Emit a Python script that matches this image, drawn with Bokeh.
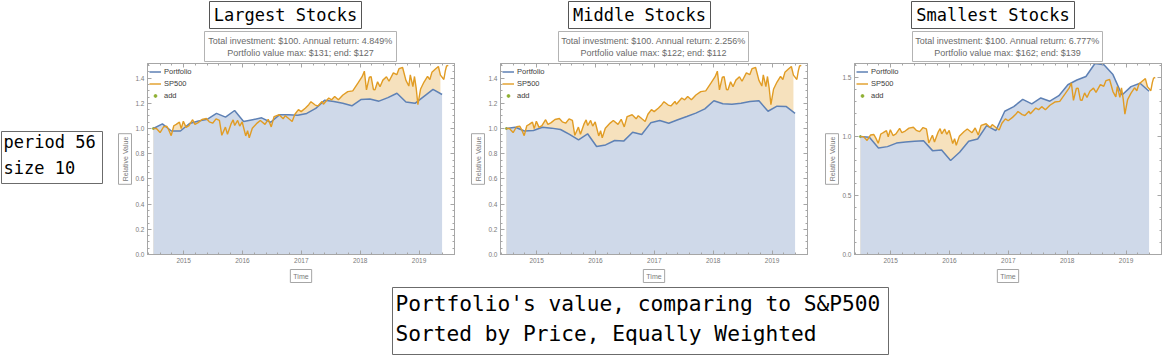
import numpy as np
from bokeh.plotting import figure
from bokeh.layouts import row, column
from bokeh.models import (Range1d, FixedTicker, LinearAxis, Title, Label, Legend,
                          LegendItem, Spacer, PrintfTickFormatter, CustomJSTickFormatter)
from bokeh.embed import file_html
from bokeh.resources import INLINE

# ---------------- data ----------------
sp_times = [2014.486, 2014.537, 2014.581, 2014.600, 2014.660, 2014.715, 2014.751, 2014.789,
            2014.833, 2014.874, 2014.929, 2014.959, 2014.995,
            2015.041, 2015.090, 2015.153, 2015.192, 2015.247, 2015.312, 2015.386, 2015.436,
            2015.493, 2015.551, 2015.608, 2015.649, 2015.710, 2015.745, 2015.808, 2015.841,
            2015.868, 2015.918, 2015.953, 2015.995,
            2016.055, 2016.087, 2016.115, 2016.167, 2016.249, 2016.303, 2016.383, 2016.437,
            2016.489, 2016.538, 2016.623, 2016.691, 2016.727, 2016.784, 2016.844, 2016.891,
            2016.951, 2016.997,
            2017.071, 2017.126, 2017.164, 2017.236, 2017.282, 2017.351, 2017.375, 2017.466,
            2017.515, 2017.567, 2017.630, 2017.707, 2017.789, 2017.874, 2017.964,
            2018.033, 2018.071, 2018.107, 2018.156, 2018.186, 2018.225, 2018.252, 2018.296,
            2018.337, 2018.386, 2018.447, 2018.490, 2018.564, 2018.622, 2018.660, 2018.721,
            2018.778, 2018.827, 2018.852, 2018.896, 2018.923, 2018.953, 2018.981,
            2019.027, 2019.085, 2019.145, 2019.184, 2019.219, 2019.279, 2019.329, 2019.364,
            2019.422, 2019.447, 2019.468, 2019.497]
sp_values = [1.000, 1.000, 0.978, 0.967, 1.014, 1.018, 0.985, 0.943,
             1.022, 1.033, 1.051, 0.999, 1.058,
             1.009, 1.023, 1.070, 1.033, 1.047, 1.072, 1.079, 1.053,
             1.042, 1.077, 1.065, 0.946, 1.011, 0.954, 1.039, 1.068,
             1.024, 1.064, 1.019, 1.052,
             0.941, 0.982, 0.926, 1.002, 1.043, 1.064, 1.033, 1.073,
             1.013, 1.095, 1.109, 1.077, 1.102, 1.079, 1.056, 1.113,
             1.150, 1.134,
             1.163, 1.189, 1.213, 1.186, 1.179, 1.215, 1.193, 1.242,
             1.228, 1.254, 1.228, 1.266, 1.293, 1.299, 1.362,
             1.411, 1.455, 1.307, 1.408, 1.411, 1.310, 1.307, 1.371,
             1.332, 1.384, 1.411, 1.375, 1.441, 1.427, 1.475, 1.484,
             1.382, 1.337, 1.425, 1.333, 1.413, 1.316, 1.190,
             1.314, 1.369, 1.414, 1.389, 1.446, 1.472, 1.492, 1.424,
             1.389, 1.458, 1.496, 1.501]

port_times = [2014.486, 2014.639, 2014.793, 2014.946, 2015.099, 2015.253, 2015.406, 2015.559,
              2015.712, 2015.866, 2016.019, 2016.172, 2016.326, 2016.479, 2016.632, 2016.786,
              2016.939, 2017.092, 2017.245, 2017.399, 2017.552, 2017.705, 2017.859, 2018.012,
              2018.165, 2018.319, 2018.472, 2018.625, 2018.778, 2018.932, 2019.085, 2019.238,
              2019.392]
largest_values = [1.00, 1.037, 0.98, 0.98, 1.04, 1.06, 1.074, 1.12, 1.09, 1.143, 1.055, 1.07,
                  1.085, 1.05, 1.11, 1.11, 1.105, 1.12, 1.16, 1.225, 1.215, 1.20, 1.18, 1.23,
                  1.235, 1.217, 1.245, 1.28, 1.21, 1.20, 1.255, 1.31, 1.27]
middle_values = [1.00, 1.01, 0.98, 0.984, 1.01, 1.003, 0.992, 0.953, 0.91, 0.958, 0.857, 0.87,
                 0.905, 0.90, 0.971, 0.952, 1.045, 1.063, 1.042, 1.069, 1.095, 1.122, 1.156,
                 1.22, 1.196, 1.193, 1.201, 1.214, 1.22, 1.137, 1.177, 1.175, 1.12]
smallest_values = [1.00, 0.995, 0.904, 0.915, 0.945, 0.955, 0.96, 0.965, 0.881, 0.887, 0.797,
                   0.867, 0.96, 0.98, 1.093, 1.05, 1.215, 1.254, 1.316, 1.277, 1.328, 1.30,
                   1.347, 1.44, 1.48, 1.51, 1.62, 1.61, 1.526, 1.353, 1.424, 1.452, 1.385]
# the single $100 investment, made at the start (hidden under the lines)
add_times = [2014.486]
add_values = [1.0]

panel_titles = ["Largest Stocks", "Middle Stocks", "Smallest Stocks"]
panel_subtitles = [
    ["Total investment: $100. Annual return: 4.849%", "Portfolio value max: $131; end: $127"],
    ["Total investment: $100. Annual return: 2.256%", "Portfolio value max: $122; end: $112"],
    ["Total investment: $100. Annual return: 6.777%", "Portfolio value max: $162; end: $139"],
]
series_names = ["Portfolio", "SP500", "add"]
year_ticks = [2015, 2016, 2017, 2018, 2019]
y_ticks_fine = [0.0, 0.2, 0.4, 0.6, 0.8, 1.0, 1.2, 1.4]
y_ticks_coarse = [0.0, 0.5, 1.0, 1.5]
side_lines = ["period 56", "size 10"]
bottom_lines = ["Portfolio's value, comparing to S&P500", "Sorted by Price, Equally Weighted"]

# ---------------- styling ----------------
BLUE, ORANGE, GREEN = "#5e81b5", "#e19c24", "#8fb032"
BLUE_FILL, ORANGE_FILL = "#cfd9e9", "#f6e1bd"
FRAME = "#a6a6a6"
TICK_TXT = "#7a7a7a"
MONO = "DejaVu Sans Mono"
SANS = "Liberation Sans"
X0, X1 = 2014.386, 2019.603
PLOT_H = 224


def style_axis(ax, labels=True):
    ax.axis_line_color = FRAME
    ax.major_tick_line_color = FRAME
    ax.minor_tick_line_color = FRAME
    ax.major_tick_in = 4
    ax.major_tick_out = 0
    ax.minor_tick_in = 2
    ax.minor_tick_out = 0
    ax.major_label_text_font = SANS
    ax.major_label_text_font_size = "6.5px"
    ax.major_label_text_color = TICK_TXT
    ax.major_label_standoff = 3
    if not labels:
        ax.formatter = CustomJSTickFormatter(code="return ''")
        ax.major_label_text_font_size = "0px"
        ax.major_label_standoff = 0


def box_fig(width, height, lines, ys, size, font, color, align, x0, outline, bt=1, bb=1):
    p = figure(width=width, height=height, x_range=Range1d(0, 1), y_range=Range1d(0, 1),
               output_backend="svg", toolbar_location=None, title=None,
               x_axis_type=None, y_axis_type=None, min_border_left=1, min_border_right=1,
               min_border_top=bt, min_border_bottom=bb)
    p.grid.visible = False
    p.outline_line_color = outline
    for txt, y in zip(lines, ys):
        p.add_layout(Label(x=x0, y=y, text=txt, text_font=font, text_font_size=size,
                           text_baseline="middle", text_align=align, text_color=color))
    return p


def plot_fig(vals, ymax, yticks, ystep, width, left, right):
    p = figure(width=width, height=PLOT_H, x_range=Range1d(X0, X1), y_range=Range1d(0, ymax),
               output_backend="svg", toolbar_location=None, title=None,
               min_border_left=left, min_border_right=right, min_border_top=1,
               min_border_bottom=32)
    p.grid.visible = False
    p.outline_line_color = FRAME
    p.background_fill_color = "white"

    st = np.array(sp_times)
    sv = np.array(sp_values)
    m = st <= port_times[-1]
    p.varea(x=st[m], y1=np.zeros(int(m.sum())), y2=sv[m], fill_color=ORANGE_FILL)
    p.varea(x=port_times, y1=np.zeros(len(port_times)), y2=vals, fill_color=BLUE_FILL)
    r3 = p.scatter(add_times, add_values, color=GREEN, size=2)
    r1 = p.line(port_times, vals, line_color=BLUE, line_width=1.5)
    r2 = p.line(sp_times, sp_values, line_color=ORANGE, line_width=1.4)

    xminor = list(np.arange(2014.4, X1, 0.2))
    yminor = list(np.arange(0, ymax, ystep))
    p.xaxis.ticker = FixedTicker(ticks=year_ticks, minor_ticks=xminor)
    p.yaxis.ticker = FixedTicker(ticks=yticks, minor_ticks=yminor)
    p.yaxis.formatter = PrintfTickFormatter(format="%.1f")
    style_axis(p.xaxis[0])
    style_axis(p.yaxis[0])

    top = LinearAxis(ticker=FixedTicker(ticks=year_ticks, minor_ticks=xminor))
    style_axis(top, labels=False)
    p.add_layout(top, "above")
    rgt = LinearAxis(ticker=FixedTicker(ticks=yticks, minor_ticks=yminor))
    style_axis(rgt, labels=False)
    p.add_layout(rgt, "right")

    legend = Legend(items=[LegendItem(label=series_names[0], renderers=[r1]),
                           LegendItem(label=series_names[1], renderers=[r2]),
                           LegendItem(label=series_names[2], renderers=[r3])],
                    location="top_left", margin=2, padding=5, spacing=0,
                    glyph_width=12, glyph_height=7, label_height=12, label_standoff=3,
                    label_text_font=SANS, label_text_font_size="7.5px",
                    label_text_color="#3c3c3c", border_line_color=None,
                    background_fill_alpha=0)
    p.add_layout(legend)

    ylab = Title(text="Relative Value", align="center", text_font=SANS, text_font_size="7px",
                 text_font_style="normal", text_color="#7a7a7a",
                 border_line_color="#a6a6a6", padding=3, standoff=2)
    p.add_layout(ylab, "left")
    xlab = Title(text="Time", align="center", text_font=SANS, text_font_size="7px",
                 text_font_style="normal", text_color="#7a7a7a",
                 border_line_color="#a6a6a6", padding=3, standoff=4)
    p.add_layout(xlab, "below")
    return p


def panel(i, vals, ymax, yticks, ystep, width, left, right, tpos, spos):
    # tpos / spos: (spacer before, box width) for title and subtitle boxes
    t_fig = box_fig(tpos[1], 29, [panel_titles[i]], [0.5], "17px", MONO, "black",
                    "center", 0.5, "#555555")
    s_fig = box_fig(spos[1], 33, panel_subtitles[i], [0.70, 0.277], "9px", SANS, "#6a6a6a",
                    "center", 0.5, "#b3b3b3", bt=2, bb=1)
    t_row = row(Spacer(width=tpos[0], height=29), t_fig,
                Spacer(width=width - tpos[0] - tpos[1], height=29))
    s_row = row(Spacer(width=spos[0], height=33), s_fig,
                Spacer(width=width - spos[0] - spos[1], height=33))
    p = plot_fig(vals, ymax, yticks, ystep, width, left, right)
    return column(t_row, s_row, p)


c1 = panel(0, largest_values, 1.516, y_ticks_fine, 0.05, 356, 44, 5, (105, 154), (100, 194))
c2 = panel(1, middle_values, 1.516, y_ticks_fine, 0.05, 352, 41, 4, (108, 144), (98, 192))
c3 = panel(2, smallest_values, 1.62, y_ticks_coarse, 0.1, 351, 43, 1, (99, 165), (100, 192))

side = box_fig(103, 54, side_lines, [0.80, 0.30], "17px", MONO, "black", "left", 0.02,
               "#6b6b6b")
bottom = box_fig(498, 69, bottom_lines, [0.76, 0.32], "21.2px", MONO, "black", "left",
                 0.006, "#6b6b6b")

left_col = column(Spacer(width=103, height=130), side)
top_row = row(left_col, c1, c2, c3)
bottom_row = row(Spacer(width=391, height=69), bottom)
page = column(top_row, bottom_row)

open("out.html", "w").write(file_html(page, INLINE))
